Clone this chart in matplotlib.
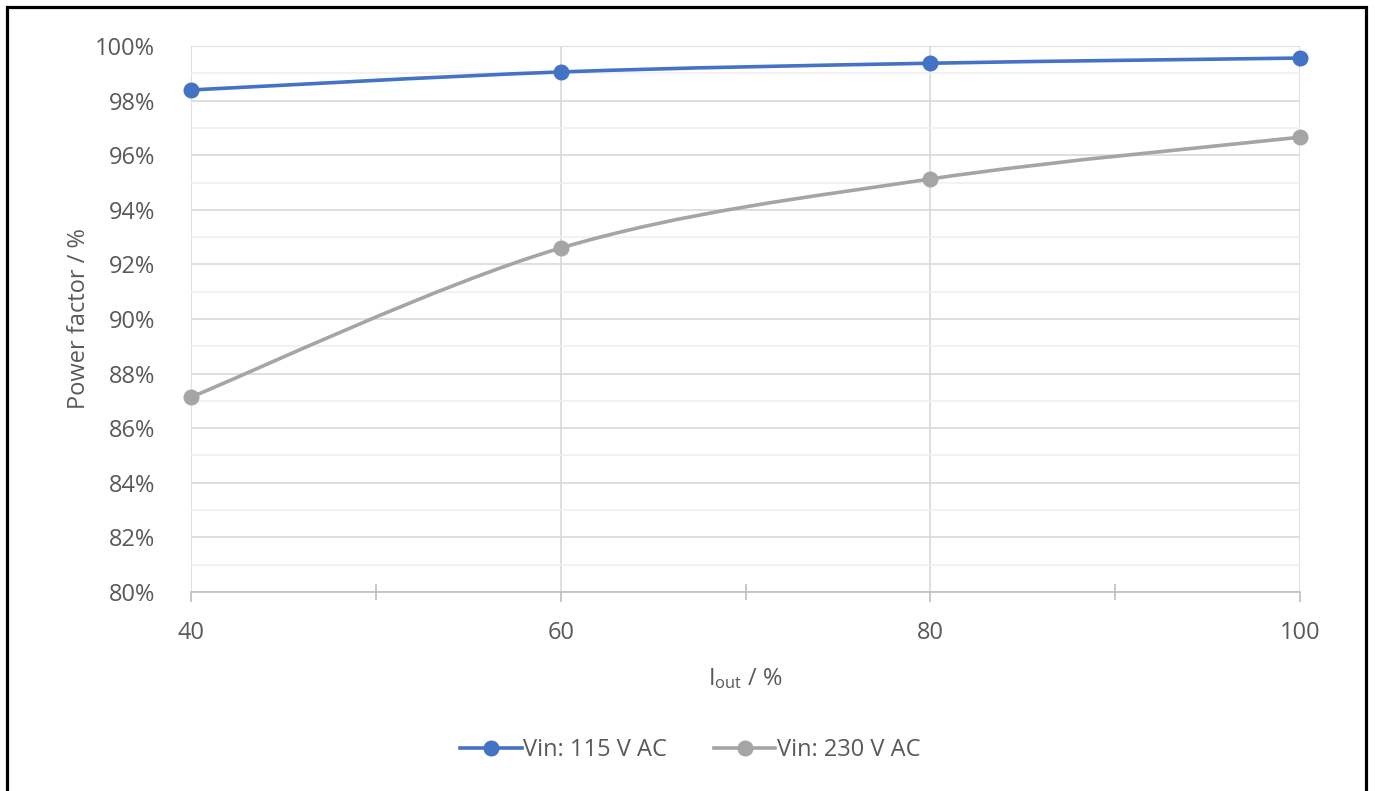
import numpy as np
from matplotlib import pyplot as plt
from matplotlib.path import Path
from matplotlib.patches import PathPatch, Rectangle
from matplotlib.lines import Line2D

plt.rcParams['font.family'] = ['Open Sans', 'DejaVu Sans']

iout = [40, 60, 80, 100]
pf_115 = [98.39, 99.05, 99.37, 99.56]
pf_230 = [87.14, 92.60, 95.13, 96.66]
series_names = ['Vin: 115 V AC', 'Vin: 230 V AC']
colors = ['#4472C4', '#A5A5A5']

y_ticks = list(range(80, 101, 2))
x_ticks = [40, 60, 80, 100]

text_col = '#595959'
fs = 17


def smooth_path(x, y):
    # catmull-rom -> cubic bezier, roughly what the spreadsheet "smooth line" does
    pts = np.column_stack([x, y]).astype(float)
    n = len(pts)
    verts = [pts[0]]
    codes = [Path.MOVETO]
    for i in range(n - 1):
        p0 = pts[i - 1] if i > 0 else pts[i]
        p1 = pts[i]
        p2 = pts[i + 1]
        p3 = pts[i + 2] if i + 2 < n else pts[i + 1]
        c1 = p1 + (p2 - p0) / 6.0
        c2 = p2 - (p3 - p1) / 6.0
        verts += [c1, c2, p2]
        codes += [Path.CURVE4] * 3
    return Path(verts, codes)


fig = plt.figure(figsize=(13.75, 7.91), dpi=100)
ax = fig.add_axes([0.1389, 0.2516, 0.8066, 0.6902])

ax.set_xlim(40, 100)
ax.set_ylim(80, 100)

# grid
ax.set_yticks(y_ticks)
ax.set_yticks(np.arange(81, 100, 2), minor=True)
ax.set_xticks(x_ticks)
ax.set_xticks([50, 70, 90], minor=True)
ax.grid(which='major', axis='both', color='#d9d9d9', lw=1.2)
ax.grid(which='minor', axis='y', color='#f0f0f0', lw=1.2)
ax.set_axisbelow(True)

for s in ['top', 'right', 'left']:
    ax.spines[s].set_visible(False)
ax.spines['bottom'].set_color('#bfbfbf')
ax.spines['bottom'].set_linewidth(1.2)

ax.tick_params(axis='y', which='both', length=0, labelsize=fs, labelcolor=text_col, pad=26)
ax.tick_params(axis='x', which='major', length=7, width=1.2, color='#bfbfbf', direction='out',
               labelsize=fs, labelcolor=text_col, pad=14)
ax.tick_params(axis='x', which='minor', length=12, width=1.2, color='#bfbfbf', direction='inout')
ax.set_yticklabels([f'{v}%' for v in y_ticks])

handles = []
for vals, name, c in zip([pf_115, pf_230], series_names, colors):
    ax.add_patch(PathPatch(smooth_path(iout, vals), fill=False, ec=c, lw=2.6, zorder=3))
    ax.plot(iout, vals, ls='none', marker='o', ms=10.5, color=c, zorder=4, clip_on=False)
    handles.append(Line2D([], [], color=c, lw=2.6, marker='o', ms=10.5))

ax.set_ylabel('Power factor / %', fontsize=fs, color=text_col, labelpad=3)
ax.set_xlabel(r'$\mathregular{I_{out}}$ / %', fontsize=fs, color=text_col, labelpad=15)

fig.legend(handles, series_names, loc='center', bbox_to_anchor=(0.502, 0.052), ncol=2,
           frameon=False, fontsize=fs, labelcolor=text_col, handlelength=2.6,
           handletextpad=0.05, columnspacing=2.0)

# outer frame
fig.patches.append(Rectangle((0.0051, -0.02), 0.9884, 1.0112, transform=fig.transFigure,
                             fill=False, ec='black', lw=2.3))

fig.savefig('out.png', dpi=100)
